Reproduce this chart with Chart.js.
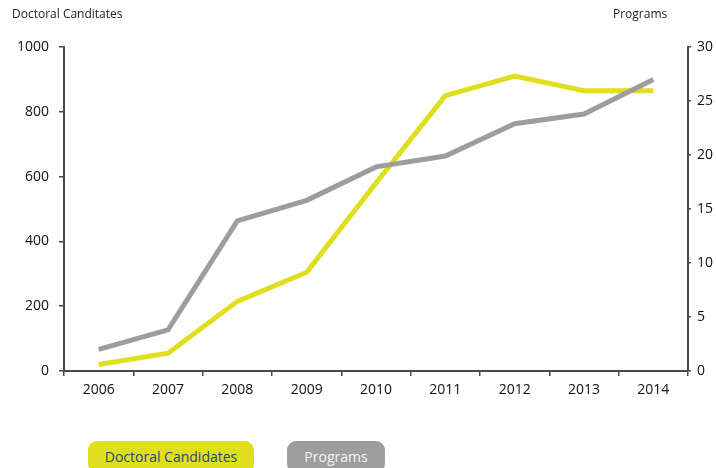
<!DOCTYPE html>
<html><head><meta charset="utf-8">
<script src="https://cdn.jsdelivr.net/npm/chart.js@4/dist/chart.umd.min.js"></script>
<style>
html,body{margin:0;padding:0;background:#fff;}
#wrap{position:relative;width:716px;height:468px;overflow:hidden;font-family:"Open Sans",sans-serif;}
canvas{position:absolute;left:0;top:0;}
.ttl{position:absolute;font-size:12px;color:#222;top:5px;}
.pill{position:absolute;top:441px;height:32px;border-radius:9px;font-size:14px;line-height:31px;text-align:center;}
</style></head>
<body>
<div id="wrap">
<canvas id="c" width="716" height="468"></canvas>
<div class="ttl" style="left:12px">Doctoral Canditates</div>
<div class="ttl" style="left:613px">Programs</div>
<div class="pill" style="left:88px;width:166px;background:#e0df1e;color:#1e4a7a;">Doctoral Candidates</div>
<div class="pill" style="left:287px;width:98px;background:#9d9d9d;color:#f4f4f4;">Programs</div>
</div>
<script>
const years = ['2006','2007','2008','2009','2010','2011','2012','2013','2014'];
const doctoralCandidates = [20, 55, 215, 305, 580, 850, 910, 865, 865];
const programs = [2, 3.8, 13.9, 15.8, 18.9, 19.9, 22.9, 23.8, 27];

const axisColor = '#4a4a4a';
const tickFont = {family: 'Open Sans', size: 14};

new Chart(document.getElementById('c'), {
  type: 'line',
  data: {
    labels: years,
    datasets: [
      {label: 'Programs', data: programs, yAxisID: 'y2', borderColor: '#9d9d9d', borderWidth: 5, pointRadius: 0, tension: 0, fill: false, borderCapStyle: 'butt'},
      {label: 'Doctoral Candidates', data: doctoralCandidates, yAxisID: 'y', borderColor: '#e0df1e', borderWidth: 5, pointRadius: 0, tension: 0, fill: false, borderCapStyle: 'butt'}
    ]
  },
  options: {
    responsive: false,
    animation: false,
    events: [],
    layout: {padding: {top: 47, left: 0, right: 0, bottom: 0}},
    plugins: {legend: {display: false}, tooltip: {enabled: false}},
    scales: {
      x: {
        offset: true,
        grid: {offset: true, drawOnChartArea: false, drawTicks: true, tickLength: 5, color: axisColor, lineWidth: 1.5},
        border: {display: true, color: axisColor, width: 2},
        ticks: {color: '#111', font: tickFont, padding: 6, maxRotation: 0},
        afterFit(s) { s.height = 97; }
      },
      y: {
        position: 'left', min: 0, max: 1000,
        grid: {drawOnChartArea: false, drawTicks: true, tickLength: 5, color: axisColor, lineWidth: 1.5},
        border: {display: true, color: axisColor, width: 2},
        ticks: {stepSize: 200, color: '#111', font: tickFont, padding: 10, callback: v => String(v)},
        afterFit(s) { s.width = 64; }
      },
      y2: {
        position: 'right', min: 0, max: 30,
        grid: {drawOnChartArea: false, drawTicks: true, tickLength: 3, color: axisColor, lineWidth: 1.5},
        border: {display: true, color: axisColor, width: 2},
        ticks: {stepSize: 5, color: '#111', font: tickFont, padding: 6},
        afterFit(s) { s.width = 28; }
      }
    }
  }
});
</script>
</body></html>
